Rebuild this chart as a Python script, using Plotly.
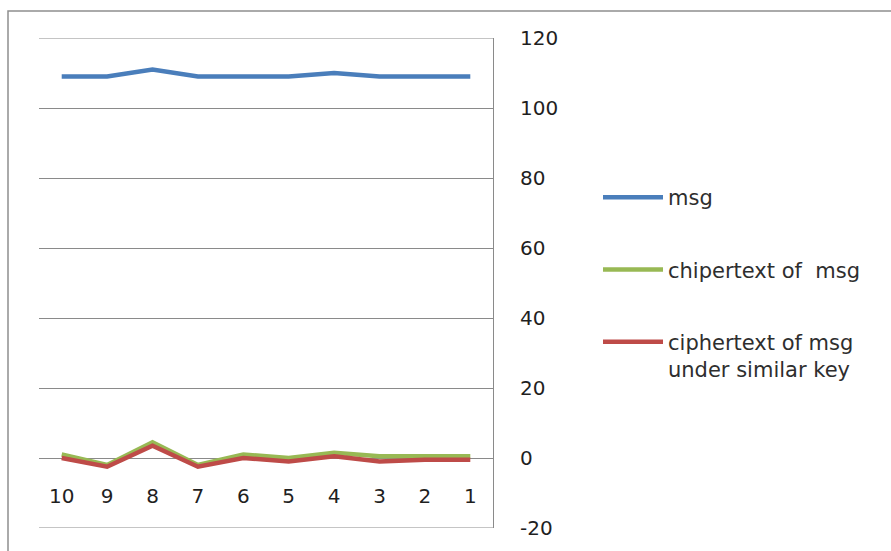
import plotly.graph_objects as go

# Sample index (plotted in reverse order, 10 down to 1)
categories = ["10", "9", "8", "7", "6", "5", "4", "3", "2", "1"]

# Plaintext message values
msg = [109, 109, 111, 109, 109, 109, 110, 109, 109, 109]
# Ciphertext of the message
cipher = [1, -2, 4.5, -2, 1, 0, 1.5, 0.5, 0.5, 0.5]
# Ciphertext of the message under a similar key
cipher_similar = [0, -2.5, 3.5, -2.5, 0, -1, 0.5, -1, -0.5, -0.5]

y_ticks = [-20, 0, 20, 40, 60, 80, 100, 120]
y_tick_text = ["-20", "0", "20", "40", "60", "80", "100", "120"]

W, H = 891, 551
L, R, T, B = 39, 398, 38, 23
plot_w = W - L - R
plot_h = H - T - B


def px_x(px):
    return (px - L) / plot_w


def px_y(py):
    return (H - B - py) / plot_h


fig = go.Figure()

series = [
    ("msg", msg, "#4a7ebb"),
    ("chipertext of\u00a0 msg", cipher, "#98b954"),
    ("ciphertext of msg<br>under similar key", cipher_similar, "#be4b48"),
]
for i, (name, vals, color) in enumerate(series):
    fig.add_trace(go.Scatter(
        x=categories, y=vals, name=name, mode="lines",
        line=dict(color=color, width=4.5),
        legendgroup=f"g{i}",
    ))

grid = "#8a8a8a"

# gridlines at the two ends of the value range (plotly skips those on the edges)
shapes = [
    dict(type="line", xref="paper", yref="y", x0=0, x1=1, y0=v, y1=v,
         line=dict(color=grid, width=1), layer="below")
    for v in (y_ticks[0], y_ticks[-1])
]
# outer chart frame
shapes.append(dict(
    type="rect", xref="paper", yref="paper",
    x0=px_x(8), x1=px_x(905), y0=px_y(565), y1=px_y(11),
    line=dict(color="#8f8f8f", width=1.5), layer="below",
))

fig.update_layout(
    width=W, height=H,
    margin=dict(l=L, r=R, t=T, b=B),
    paper_bgcolor="white", plot_bgcolor="white",
    showlegend=True,
    legend=dict(
        x=px_x(598), xanchor="left",
        y=px_y(177), yanchor="top",
        font=dict(family="DejaVu Sans", size=21, color="#2e2e2e"),
        itemwidth=60, tracegroupgap=42, valign="top",
        bgcolor="rgba(0,0,0,0)",
    ),
    xaxis=dict(
        type="category", categoryorder="array", categoryarray=categories,
        range=[-0.5, len(categories) - 0.5],
        anchor="free", position=(0 - y_ticks[0]) / (y_ticks[-1] - y_ticks[0]),
        showgrid=False, showline=False, zeroline=False, ticks="",
        ticklabelstandoff=24,
        tickfont=dict(family="DejaVu Sans", size=20, color="#1f1f1f"),
    ),
    yaxis=dict(
        side="right", range=[y_ticks[0], y_ticks[-1]],
        tickvals=y_ticks, ticktext=y_tick_text,
        showgrid=True, gridcolor=grid, gridwidth=1,
        zeroline=False,
        showline=True, linecolor=grid, linewidth=1, mirror=False,
        ticks="", ticklabelstandoff=22,
        tickfont=dict(family="DejaVu Sans", size=20, color="#1f1f1f"),
    ),
    shapes=shapes,
)

fig.write_html("out.html")
